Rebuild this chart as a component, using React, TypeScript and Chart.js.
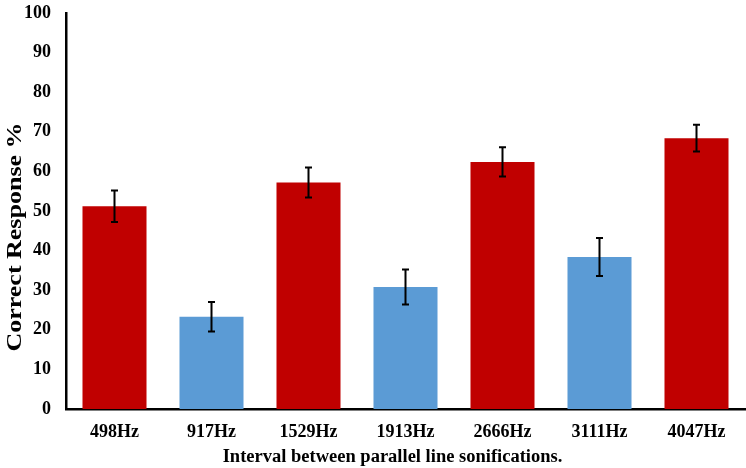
import React, { useEffect, useRef } from "react";
import { Chart, registerables } from "chart.js";

Chart.register(...registerables);

const categories = ["498Hz", "917Hz", "1529Hz", "1913Hz", "2666Hz", "3111Hz", "4047Hz"];
const values = [51.2, 23.3, 57.2, 30.8, 62.4, 38.4, 68.4];
const errors = [4.0, 3.7, 3.8, 4.4, 3.7, 4.8, 3.4];
const barColors = ["#C00000", "#5B9BD5", "#C00000", "#5B9BD5", "#C00000", "#5B9BD5", "#C00000"];
const yTitle = "Correct Response %";
const xTitle = "Interval between parallel line sonifications.";

const FONT = "'Liberation Serif', 'Times New Roman', serif";

const errorBarPlugin = {
  id: "errorBars",
  afterDatasetsDraw(chart: any) {
    const meta = chart.getDatasetMeta(0);
    const y = chart.scales.y;
    const ctx = chart.ctx;
    ctx.save();
    ctx.strokeStyle = "#000000";
    ctx.lineWidth = 2;
    meta.data.forEach((bar: any, i: number) => {
      const x = bar.x;
      const top = y.getPixelForValue(values[i] + errors[i]);
      const bottom = y.getPixelForValue(values[i] - errors[i]);
      const cap = 3.5;
      ctx.beginPath();
      ctx.moveTo(x, top);
      ctx.lineTo(x, bottom);
      ctx.moveTo(x - cap, top);
      ctx.lineTo(x + cap, top);
      ctx.moveTo(x - cap, bottom);
      ctx.lineTo(x + cap, bottom);
      ctx.stroke();
    });
    ctx.restore();
  },
};

const titlesPlugin = {
  id: "axisTitles",
  afterDraw(chart: any) {
    const ctx = chart.ctx;
    const area = chart.chartArea;
    ctx.save();
    ctx.fillStyle = "#000000";
    ctx.textAlign = "center";
    ctx.textBaseline = "middle";
    // y title (slightly stretched along its reading direction, like the reference)
    ctx.save();
    ctx.translate(16, (area.top + area.bottom) / 2 + 26);
    ctx.rotate(-Math.PI / 2);
    ctx.scale(1.3, 1);
    ctx.font = `bold 20px ${FONT}`;
    ctx.fillText(yTitle, 0, 0);
    ctx.restore();
    // x title
    ctx.font = `bold 18.5px ${FONT}`;
    ctx.fillText(xTitle, (area.left + area.right) / 2 - 13, chart.height - 11);
    ctx.restore();
  },
};

export default function App() {
  const ref = useRef<HTMLCanvasElement | null>(null);
  useEffect(() => {
    if (!ref.current) return;
    const chart = new Chart(ref.current, {
      type: "bar",
      data: {
        labels: categories,
        datasets: [
          {
            data: values,
            backgroundColor: barColors,
            borderWidth: 0,
            barPercentage: 0.66,
            categoryPercentage: 1,
          },
        ],
      },
      options: {
        animation: false,
        responsive: false,
        maintainAspectRatio: false,
        layout: { padding: { top: 13, right: 1, left: 0, bottom: 0 } },
        plugins: { legend: { display: false }, tooltip: { enabled: false } },
        scales: {
          x: {
            grid: { display: false, drawTicks: false },
            border: { color: "#000000", width: 2.5 },
            ticks: { color: "#000000", font: { family: FONT, size: 18, weight: "bold" }, padding: 13 },
            title: { display: false },
            afterFit: (s: any) => {
              s.height = 59;
            },
          },
          y: {
            min: 0,
            max: 100,
            grid: { display: false, drawTicks: false },
            border: { color: "#000000", width: 2.5 },
            ticks: {
              stepSize: 10,
              color: "#000000",
              font: { family: FONT, size: 18, weight: "bold" },
              padding: 15,
            },
            title: { display: false },
            afterFit: (s: any) => {
              s.width = 66;
              s.paddingTop = 0;
              s.paddingBottom = 0;
            },
          },
        },
      },
      plugins: [errorBarPlugin, titlesPlugin],
    });
    return () => chart.destroy();
  }, []);
  return (
    <div style={{ position: "absolute", left: 0, top: 0, width: 746, height: 468, background: "#fff" }}>
      <canvas ref={ref} width={746} height={468} style={{ display: "block" }} />
    </div>
  );
}
